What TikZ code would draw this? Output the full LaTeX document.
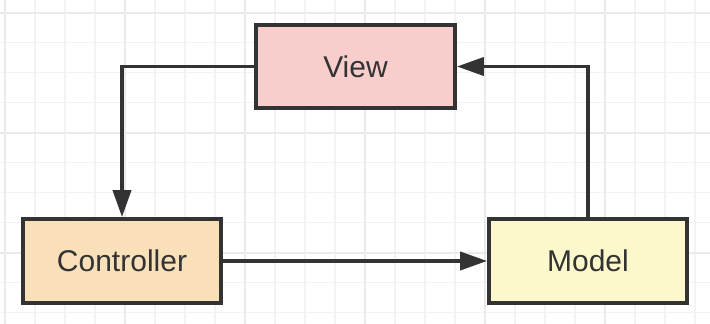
\documentclass[tikz,border=0pt]{standalone}
\usepackage{fontspec}
\setmainfont{Liberation Sans}
\usetikzlibrary{arrows.meta}
\definecolor{ink}{HTML}{333333}
\definecolor{viewfill}{HTML}{F8CECC}
\definecolor{ctrlfill}{HTML}{FAE0B8}
\definecolor{modelfill}{HTML}{FCF8CC}
\definecolor{gridminor}{HTML}{F3F3F3}
\definecolor{gridmajor}{HTML}{EAEAEA}
\tikzset{
  box/.style={draw=ink, line width=3.8pt, minimum width=198pt, minimum height=84pt,
    inner sep=0pt, text=ink, font=\fontsize{30pt}{36pt}\selectfont},
  conn/.style={draw=ink, line width=3.8pt, -{Triangle[length=27pt,width=18pt]}}
}
\begin{document}
\begin{tikzpicture}[x=1pt,y=-1pt]
\fill[white] (0,0) rectangle (710,324);
\useasboundingbox (0,0) rectangle (710,324);
% grid
\foreach \i in {0,...,23} {
  \draw[gridminor, line width=1.2pt] ({5+30*\i},0) -- ({5+30*\i},324);
}
\foreach \j in {0,...,10} {
  \draw[gridminor, line width=1.2pt] (0,{12.7+30*\j}) -- (710,{12.7+30*\j});
}
\foreach \i in {0,...,5} {
  \draw[gridmajor, line width=1.6pt] ({5+120*\i},0) -- ({5+120*\i},324);
}
\foreach \j in {0,...,2} {
  \draw[gridmajor, line width=1.6pt] (0,{12.7+120*\j}) -- (710,{12.7+120*\j});
}
% nodes
\node[box, fill=viewfill, minimum width=199pt, minimum height=83pt] (view) at (355.5,66.5) {View};
\node[box, fill=ctrlfill] (controller) at (122,261) {Controller};
\node[box, fill=modelfill] (model) at (588,261) {Model};
% connectors
\draw[conn] (view.west) -| (controller.north);
\draw[conn] (controller.east) -- (model.west);
\draw[conn] (model.north) |- (view.east);
\end{tikzpicture}
\end{document}
